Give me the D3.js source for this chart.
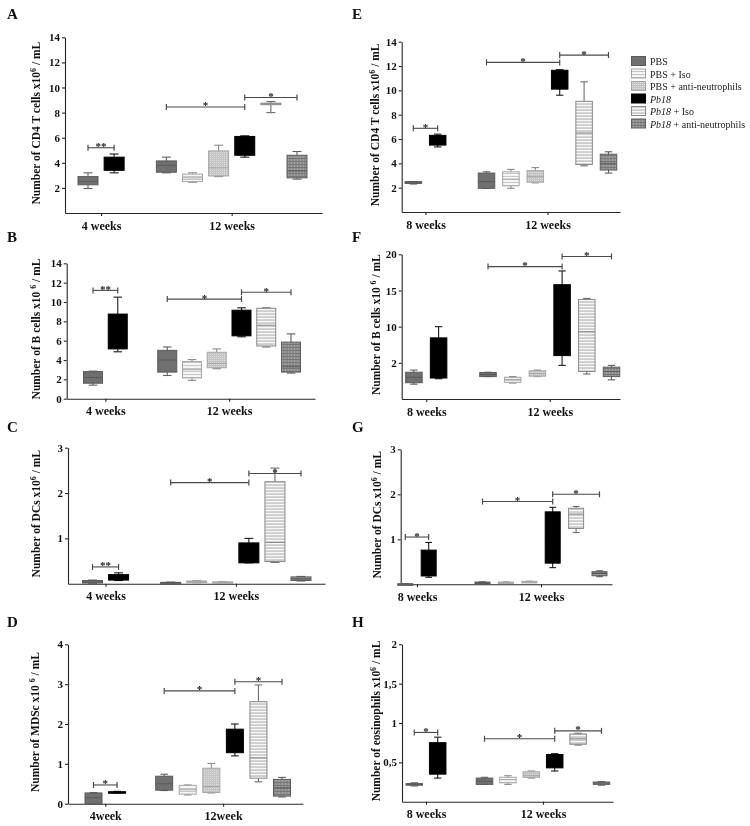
<!DOCTYPE html>
<html><head><meta charset="utf-8">
<script src="https://cdn.jsdelivr.net/npm/d3@7"></script>
<style>body{margin:0;background:#fff} svg{display:block;will-change:transform}</style>
</head><body>
<svg id="c" width="750" height="826"></svg>
<script>
// ---------------- DATA ----------------
const treatments = ["PBS","PBS + Iso","PBS + anti-neutrophils","Pb18","Pb18 + Iso","Pb18 + anti-neutrophils"];
// order of boxes in each panel: first time point (PBS, Pb18), then 12 weeks (six treatments)
const boxGroups = ["PBS","Pb18","PBS","PBS + Iso","PBS + anti-neutrophils","Pb18","Pb18 + Iso","Pb18 + anti-neutrophils"];

// stats: [whisker low, Q1, median, Q3, whisker high]
const statsA = [[1.95,2.25,2.5,2.9,3.2],[3.2,3.4,3.9,4.45,4.7],[3.2,3.25,3.8,4.15,4.45],[2.45,2.5,2.8,3.1,3.2],
                [2.9,2.95,3.6,4.95,5.4],[4.45,4.6,5.0,6.1,6.15],[8.0,8.68,8.7,8.75,8.88],[2.7,2.8,3.35,4.6,4.9]];
const statsB = [[1.4,1.6,2.2,2.8,2.85],[4.85,5.15,6.5,8.75,10.5],[2.4,2.75,4.0,5.0,5.35],[1.9,2.15,3.0,3.85,4.05],
                [3.1,3.2,3.65,4.8,5.15],[6.4,6.5,8.0,9.15,9.4],[5.35,5.45,7.6,9.35,9.4],[2.65,2.75,3.3,5.85,6.7]];
const statsC = [[0.01,0.015,0.04,0.07,0.08],[0.07,0.08,0.14,0.2,0.24],[0.015,0.02,0.025,0.03,0.035],[0.02,0.025,0.045,0.06,0.065],
                [0.015,0.02,0.03,0.04,0.045],[0.46,0.46,0.7,0.9,1.0],[0.47,0.49,0.91,2.25,2.55],[0.06,0.07,0.1,0.15,0.16]];
const statsD = [[0,0,0.15,0.27,0.28],[0.27,0.28,0.29,0.3,0.31],[0.33,0.34,0.5,0.69,0.74],[0.22,0.24,0.35,0.46,0.47],
                [0.27,0.28,0.43,0.89,1.01],[1.2,1.28,1.6,1.87,2.0],[0.55,0.64,1.15,2.56,2.98],[0.17,0.19,0.4,0.61,0.66]];
const statsE = [[2.3,2.35,2.4,2.5,2.5],[5.35,5.5,5.9,6.3,6.4],[1.95,1.95,2.5,3.2,3.3],[1.95,2.15,2.7,3.3,3.5],
                [2.4,2.45,2.9,3.4,3.65],[9.6,10.1,11.0,11.65,11.7],[3.8,3.9,6.5,9.1,10.7],[3.2,3.45,4.0,4.75,4.95]];
const statsF = [[2.05,2.25,3.0,3.7,4.0],[2.8,2.9,5.0,8.45,10.0],[3.1,3.1,3.4,3.65,3.7],[2.2,2.3,2.7,3.0,3.1],
                [3.1,3.15,3.5,3.9,4.0],[4.65,6.0,10.0,15.8,17.7],[3.45,3.8,9.3,13.75,13.9],[2.65,3.1,3.8,4.4,4.65]];
const statsG = [[0.005,0.005,0.008,0.01,0.012],[0.155,0.185,0.4,0.76,0.93],[0.02,0.025,0.04,0.05,0.055],[0.02,0.025,0.035,0.05,0.055],
                [0.04,0.045,0.055,0.065,0.07],[0.37,0.47,1.0,1.61,1.71],[1.15,1.24,1.56,1.69,1.73],[0.17,0.19,0.24,0.28,0.3]];
const statsH = [[0.2,0.21,0.22,0.23,0.24],[0.3,0.35,0.5,0.75,0.82],[0.22,0.22,0.26,0.3,0.31],[0.22,0.24,0.28,0.31,0.33],
                [0.3,0.31,0.33,0.38,0.39],[0.39,0.43,0.55,0.6,0.61],[0.72,0.73,0.8,0.86,0.87],[0.21,0.22,0.235,0.25,0.255]];

// significance brackets: [from box, to box, value, label]
const bracketsA = [[0,1,5.2,"**"],[2,5,8.45,"*"],[5,7,9.2,"*"]];
const bracketsB = [[0,1,11.2,"**"],[2,5,10.3,"*"],[5,7,11.0,"*"]];
const bracketsC = [[0,1,0.37,"**"],[2,5,2.23,"*"],[5,7,2.43,"*"]];
const bracketsD = [[0,1,0.47,"*"],[2,5,2.83,"*"],[5,7,3.06,"*"]];
const bracketsE = [[0,1,6.88,"*"],[2,5,12.3,"*"],[5,7,12.9,"*"]];
const bracketsF = [[2,5,18.3,"*"],[5,7,19.7,"*"]];
const bracketsG = [[0,1,1.05,"*"],[2,5,1.84,"*"],[5,7,2.0,"*"]];
const bracketsH = [[0,1,0.88,"*"],[2,5,0.8,"*"],[5,7,0.9,"*"]];

// axes
const domainA = [0,14], domainB = [0,14], domainC = [0,3], domainD = [0,4];
const domainE = [0,14], domainF = [0,20], domainG = [0,3], domainH = [0,2];
const ticksA = [2,4,6,8,10,12,14], tickLabelsA = ["2","4","6","8","10","12","14"];
const ticksB = [0,2,4,6,8,10,12,14], tickLabelsB = ["0","2","4","6","8","10","12","14"];
const ticksC = [1,2,3], tickLabelsC = ["1","2","3"];
const ticksD = [0,1,2,3,4], tickLabelsD = ["0","1","2","3","4"];
const ticksE = [2,4,6,8,10,12,14], tickLabelsE = ["2","4","6","8","10","12","14"];
const ticksF = [5,10,15,20], tickLabelsF = ["2","10","15","20"];
const ticksG = [1,2,3], tickLabelsG = ["1","2","3"];
const ticksH = [0.5,1,1.5,2], tickLabelsH = ["0,5","1","1,5","2"];

const timesA = ["4 weeks","12 weeks"], timesD = ["4week","12week"], timesE = ["8 weeks","12 weeks"];
const titleA = ["Number of CD4 T cells x10","6"," / mL"];
const titleB = ["Number of B cells x10 ","6"," / mL"];
const titleC = ["Number of DCs x10","6"," / mL"];
const titleD = ["Number of MDSc x10 ","6"," / mL"];
const titleH = ["Number of eosinophils x10","6"," / mL"];

// ---------------- LAYOUT / STYLE ----------------
const FONT = "'Liberation Serif','Times New Roman',serif";
const svg = d3.select("#c");
svg.append("rect").attr("width",750).attr("height",826).attr("fill","#fff");

const defs = svg.append("defs");
function pat(id,w,h,bg,items){
  const p = defs.append("pattern").attr("id",id).attr("width",w).attr("height",h).attr("patternUnits","userSpaceOnUse");
  p.append("rect").attr("width",w).attr("height",h).attr("fill",bg);
  items.forEach(it=>p.append("rect").attr("x",it[0]).attr("y",it[1]).attr("width",it[2]).attr("height",it[3]).attr("fill",it[4]));
}
pat("pIso",4,3,"#f6f6f6",[[0,2,4,1,"#c6c6c6"]]);
pat("pAnti",2,2,"#c4c4c4",[[0,0,1,1,"#dedede"]]);
pat("pPbIso",4,3,"#cdcdcd",[[0,0,4,1.2,"#f8f8f8"]]);
pat("pPbAnti",3,3,"#8c8c8c",[[0,0,1,3,"#a2a2a2"],[0,2,3,1,"#767676"]]);

const styles = {
  "PBS": {fill:"#707070", stroke:"#5a5a5a", wh:"#626262"},
  "PBS + Iso": {fill:"url(#pIso)", stroke:"#a6a6a6", wh:"#8a8a8a"},
  "PBS + anti-neutrophils": {fill:"url(#pAnti)", stroke:"#a6a6a6", wh:"#8a8a8a"},
  "Pb18": {fill:"#000", stroke:"#000", wh:"#1a1a1a"},
  "Pb18 + Iso": {fill:"url(#pPbIso)", stroke:"#8a8a8a", wh:"#6e6e6e"},
  "Pb18 + anti-neutrophils": {fill:"url(#pPbAnti)", stroke:"#5e5e5e", wh:"#5e5e5e"}
};

const panels = [
  {L:"A", lx:7, ly:19, x0:65, x1:322, yb:213, yt:37.3, s0:88, s8:297, bw:20, tx:40,
   stats:statsA, br:bracketsA, dom:domainA, ticks:ticksA, tl:tickLabelsA, times:timesA, title:titleA},
  {L:"B", lx:7, ly:242, x0:66.7, x1:315, yb:398.7, yt:263.3, s0:93, s8:291, bw:19, tx:40,
   stats:statsB, br:bracketsB, dom:domainB, ticks:ticksB, tl:tickLabelsB, times:timesA, title:titleB},
  {L:"C", lx:7, ly:432, x0:68, x1:325, yb:583.7, yt:447.7, s0:92.5, s8:301, bw:20, tx:40,
   stats:statsC, br:bracketsC, dom:domainC, ticks:ticksC, tl:tickLabelsC, times:timesA, title:titleC},
  {L:"D", lx:7, ly:627, x0:68, x1:303, yb:803.7, yt:644.3, s0:93.5, s8:282, bw:17, tx:39,
   stats:statsD, br:bracketsD, dom:domainD, ticks:ticksD, tl:tickLabelsD, times:timesD, title:titleD},
  {L:"E", lx:352, ly:19, x0:401.7, x1:620, yb:212, yt:41.7, s0:413.3, s8:608.5, bw:16.5, tx:379,
   stats:statsE, br:bracketsE, dom:domainE, ticks:ticksE, tl:tickLabelsE, times:timesE, title:titleA},
  {L:"F", lx:352, ly:242, x0:401.7, x1:620, yb:399, yt:254.3, s0:413.9, s8:611.5, bw:16.5, tx:380,
   stats:statsF, br:bracketsF, dom:domainF, ticks:ticksF, tl:tickLabelsF, times:timesE, title:titleB},
  {L:"G", lx:352, ly:432, x0:400.7, x1:612, yb:584.3, yt:449.3, s0:412.3, s8:599.5, bw:15, tx:381, shift:-0.3,
   stats:statsG, br:bracketsG, dom:domainG, ticks:ticksG, tl:tickLabelsG, times:timesE, title:titleC},
  {L:"H", lx:352, ly:627, x0:402, x1:613, yb:801.7, yt:644.3, s0:414.3, s8:601.5, bw:16.5, tx:380,
   stats:statsH, br:bracketsH, dom:domainH, ticks:ticksH, tl:tickLabelsH, times:timesE, title:titleH}
];

function styleAxis(sel, size){
  sel.attr("font-family",FONT).attr("font-size",size).attr("font-weight","bold");
  sel.selectAll("path,line").attr("stroke","#262626").attr("stroke-width",1.1);
  sel.selectAll("text").attr("fill","#111");
}

panels.forEach(p=>{
  const g = svg.append("g");
  const y = d3.scaleLinear().domain(p.dom).range([p.yb,p.yt]);
  const x = d3.scaleLinear().domain([0,8]).range([p.s0,p.s8]);
  const slot = i => i < 2 ? i + (p.shift||0) : i + 1;
  const cx = i => x(slot(i));

  // panel letter
  g.append("text").attr("x",p.lx).attr("y",p.ly).text(p.L)
    .attr("font-family",FONT).attr("font-weight","bold").attr("font-size",15).attr("fill","#111");

  // y axis
  const ya = g.append("g").attr("transform",`translate(${p.x0},0)`)
    .call(d3.axisLeft(y).tickValues(p.ticks).tickFormat((d,i)=>p.tl[i]).tickSize(3).tickSizeOuter(0).tickPadding(2));
  styleAxis(ya, 11);

  // x axis
  const xa = x.copy().domain([x.invert(p.x0), x.invert(p.x1)]).range([p.x0,p.x1]);
  const c1 = (slot(0)+slot(1))/2, c2 = (slot(2)+slot(7))/2;
  const xg = g.append("g").attr("transform",`translate(0,${p.yb})`)
    .call(d3.axisBottom(xa).tickValues([c1,c2]).tickFormat((d,i)=>p.times[i]).tickSize(3).tickSizeOuter(0));
  styleAxis(xg, 12);
  xg.selectAll("text").attr("dy",null).attr("y",16.5);

  // y title
  const t = g.append("text").attr("transform",`translate(${p.tx},${(p.yb+p.yt)/2-2}) rotate(-90)`)
    .attr("text-anchor","middle").attr("font-family",FONT).attr("font-weight","bold").attr("font-size",11.5).attr("fill","#111");
  t.append("tspan").text(p.title[0]);
  t.append("tspan").text(p.title[1]).attr("font-size",8).attr("dy",-4.5);
  t.append("tspan").text(p.title[2]).attr("dy",4.5);

  // boxes
  p.stats.forEach((s,i)=>{
    const st = styles[boxGroups[i]];
    const c = cx(i), w = p.bw, cw = w*0.45;
    const bg = g.append("g");
    bg.append("line").attr("x1",c).attr("x2",c).attr("y1",y(s[0])).attr("y2",y(s[4])).attr("stroke",st.wh).attr("stroke-width",1.1);
    [s[0],s[4]].forEach(v=>bg.append("line").attr("x1",c-cw/2).attr("x2",c+cw/2).attr("y1",y(v)).attr("y2",y(v)).attr("stroke",st.wh).attr("stroke-width",1.1));
    const top = y(s[3]), h = Math.max(y(s[1])-y(s[3]),1.5);
    bg.append("rect").attr("x",c-w/2).attr("y",top).attr("width",w).attr("height",h)
      .attr("fill",st.fill).attr("stroke",st.stroke).attr("stroke-width",1);
    bg.append("line").attr("x1",c-w/2).attr("x2",c+w/2).attr("y1",y(s[2])).attr("y2",y(s[2])).attr("stroke",st.stroke).attr("stroke-width",1);
  });

  // brackets
  p.br.forEach(b=>{
    const xa1 = cx(b[0]), xa2 = cx(b[1]), yy = y(b[2]);
    g.append("line").attr("x1",xa1).attr("x2",xa2).attr("y1",yy).attr("y2",yy).attr("stroke","#4a4a4a").attr("stroke-width",1.1);
    [xa1,xa2].forEach(xx=>g.append("line").attr("x1",xx).attr("x2",xx).attr("y1",yy-3).attr("y2",yy+3).attr("stroke","#4a4a4a").attr("stroke-width",1.2));
    g.append("text").attr("x",(xa1+xa2)/2).attr("y",yy+2.5).attr("text-anchor","middle").text(b[3])
      .attr("font-family",FONT).attr("font-weight","bold").attr("font-size",11).attr("fill","#222");
  });
});

// legend
const lg = svg.append("g");
const ly = d3.scalePoint().domain(treatments).range([61,123.5]);
treatments.forEach(tr=>{
  const st = styles[tr];
  lg.append("rect").attr("x",631.5).attr("y",ly(tr)-4.5).attr("width",14).attr("height",9)
    .attr("fill",st.fill).attr("stroke",st.stroke).attr("stroke-width",1);
  const tx = lg.append("text").attr("x",650).attr("y",ly(tr)+4).attr("font-family",FONT).attr("font-size",10).attr("fill","#222");
  if (tr.startsWith("Pb18")) {
    tx.append("tspan").text("Pb18").attr("font-style","italic");
    tx.append("tspan").text(tr.slice(4));
  } else tx.text(tr);
});
</script>
</body></html>
